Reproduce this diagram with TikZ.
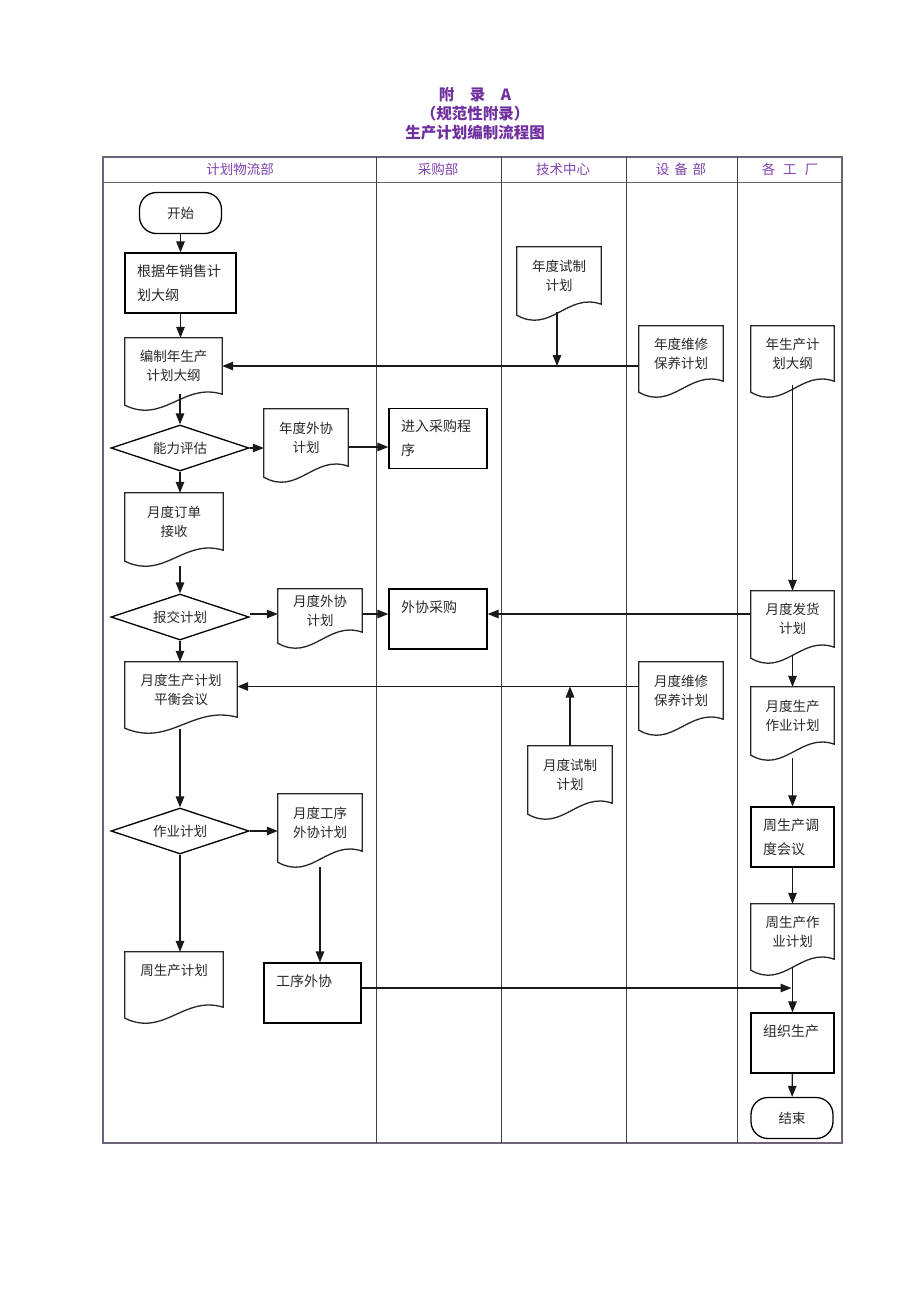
\documentclass[tikz,border=0pt]{standalone}
\usepackage{fontspec}
\setmainfont{Noto Sans CJK SC}
\usepackage{tikz}
\usetikzlibrary{shapes.geometric, arrows.meta, calc}
\definecolor{titlecolor}{RGB}{112, 48, 160}
\definecolor{headcolor}{RGB}{128, 64, 176}
\definecolor{framecolor}{RGB}{110, 100, 120}
\definecolor{inkcolor}{RGB}{40, 40, 40}

% rectangle with wavy bottom (document)
\newcommand{\docshape}[1]{%
  \draw[line] ($(#1.south west)+(0,11)$) -- (#1.north west) -- (#1.north east) -- (#1.south east)
    .. controls ($(#1.south west)!0.6!(#1.south east)+(0,-12)$) and ($(#1.south west)!0.4!(#1.south east)+(0,30)$) .. cycle;}

\begin{document}
\begin{tikzpicture}[
    x=1pt, y=-1pt,
    line/.style={line width=1.3pt, draw=black!85},
    arr/.style={line width=1.3pt, draw=black!90, -{Triangle[length=11pt,width=8.5pt]}},
    terminal/.style={draw, line width=1.3pt, rounded corners=17pt, minimum width=82pt, minimum height=41pt, text=inkcolor, font=\fontsize{13.5}{16}\selectfont},
    box/.style={draw, line width=1.3pt, align=left, inner xsep=12pt, inner ysep=0pt, minimum height=60pt, text=inkcolor, font=\fontsize{14}{24}\selectfont},
    doc/.style={inner sep=0pt, align=center, text=inkcolor, font=\fontsize{13.5}{19}\selectfont},
    decision/.style={draw, diamond, aspect=3, line width=1.3pt, inner sep=0pt, minimum width=138pt, minimum height=46pt, text=inkcolor, font=\fontsize{13.5}{16}\selectfont},
    head/.style={text=headcolor, font=\fontsize{13.5}{15}\selectfont},
    title/.style={text=titlecolor, font=\bfseries\fontsize{15.5}{18}\selectfont}
]
    \useasboundingbox (0,0) rectangle (920,1302);

    % Title
    \node[title] (t1) at (475,95) {附\quad 录\quad A};
    \node[title] (t2) at (475,114) {（规范性附录）};
    \node[title] (t3) at (475,133) {生产计划编制流程图};

    % Swimlanes
    \draw[framecolor, line width=1.5pt] (103,157) rectangle (842,1143);
    \draw[black!60, line width=1pt] (103,182) -- (842,182);
    \foreach \x in {376,501,626,737}
        \draw[black!75, line width=1pt] (\x,157) -- (\x,1143);
    \node[head] (lane1) at (240,169) {计划物流部};
    \node[head] (lane2) at (438,169) {采购部};
    \node[head] (lane3) at (563,169) {技术中心};
    \node[head] (lane4) at (681,169) {设\hspace{5pt}备\hspace{5pt}部};
    \node[head] (lane5) at (790,169) {各\hspace{8pt}工\hspace{8pt}厂};

    % Planning & logistics
    \node[terminal] (kaishi) at (180.5,213) {开始};
    \node[box, text width=87pt] (genju) at (180.5,283) {根据年销售计\\划大纲};
    \node[doc, minimum width=97pt, minimum height=56pt] (bianzhi) at (173.5,366) {编制年生产\\计划大纲};
    \node[decision] (pinggu) at (180,448) {能力评估};
    \node[doc, minimum width=84pt, minimum height=57pt] (nwaixie) at (306,437.5) {年度外协\\计划};
    \node[doc, minimum width=98pt, minimum height=57pt] (dingdan) at (174,521.5) {月度订单\\接收};
    \node[decision] (baojiao) at (180,617) {报交计划};
    \node[doc, minimum width=84pt, minimum height=43pt] (ywaixie) at (320,610.5) {月度外协\\计划};
    \node[doc, minimum width=112pt, minimum height=55pt] (pingheng) at (181,689.5) {月度生产计划\\平衡会议};
    \node[decision] (zuoye) at (180,831) {作业计划};
    \node[doc, minimum width=84pt, minimum height=57pt] (gxwaixie) at (320,822.5) {月度工序\\外协计划};
    \node[doc, minimum width=98pt, minimum height=55pt] (zhoujh) at (174,979.5) {周生产计划\\ \mbox{}};
    \node[box, text width=73pt] (gongxu) at (312.5,993) {工序外协\\ \mbox{}};

    % Purchasing
    \node[box, text width=74pt] (jinru) at (438,438.5) {进入采购程\\序};
    \node[box, text width=74pt] (waixiecg) at (438,619) {外协采购\\ \mbox{}};

    % Technology centre
    \node[doc, minimum width=84pt, minimum height=57pt] (nshizhi) at (559,275.5) {年度试制\\计划};
    \node[doc, minimum width=84pt, minimum height=57pt] (yshizhi) at (570,774.5) {月度试制\\计划};

    % Equipment
    \node[doc, minimum width=84pt, minimum height=55pt] (nweixiu) at (681,353.5) {年度维修\\保养计划};
    \node[doc, minimum width=84pt, minimum height=57pt] (yweixiu) at (681,690.5) {月度维修\\保养计划};

    % Plants
    \node[doc, minimum width=83pt, minimum height=55pt] (dagang) at (792.5,353.5) {年生产计\\划大纲};
    \node[doc, minimum width=83pt, minimum height=56pt] (fahuo) at (792.5,619) {月度发货\\计划};
    \node[doc, minimum width=83pt, minimum height=57pt] (yzuoye) at (792.5,715.5) {月度生产\\作业计划};
    \node[box, text width=59pt] (diaodu) at (792.5,837) {周生产调\\度会议};
    \node[doc, minimum width=83pt, minimum height=55pt] (zzuoye) at (792.5,931.5) {周生产作\\业计划};
    \node[box, text width=59pt] (zuzhi) at (792.5,1043) {组织生产\\ \mbox{}};
    \node[terminal] (jieshu) at (792,1118) {结束};

    \foreach \n in {bianzhi, nwaixie, dingdan, ywaixie, pingheng, gxwaixie, zhoujh,
                    nshizhi, yshizhi, nweixiu, yweixiu, dagang, fahuo, yzuoye, zzuoye}
        \docshape{\n};

    % Connections
    \draw[arr] (kaishi) -- (genju);
    \draw[arr] (genju.south) -- (genju.south |- bianzhi.north);
    \draw[arr] (pinggu.north |- bianzhi.south) -- (pinggu.north);
    \draw[arr] (nweixiu.west |- bianzhi.east) -- (bianzhi.east);
    \draw[arr] ($(nshizhi.south)+(-2,8)$) -- ($(nshizhi.south |- bianzhi.east)+(-2,0)$);
    \draw[arr] (pinggu.east) -- (pinggu.east -| nwaixie.west);
    \draw[arr] ($(pinggu.east -| nwaixie.east)+(0,-1)$) -- ($(pinggu.east -| jinru.west)+(0,-1)$);
    \draw[arr] (pinggu.south) -- (pinggu.south |- dingdan.north);
    \draw[arr] ($(baojiao.north |- dingdan.south)+(0,16)$) -- (baojiao.north);
    \draw[arr] ($(baojiao.east)+(0,-3)$) -- ($(baojiao.east -| ywaixie.west)+(0,-3)$);
    \draw[arr] ($(baojiao.east -| ywaixie.east)+(0,-3)$) -- ($(baojiao.east -| waixiecg.west)+(0,-3)$);
    \draw[arr] ($(fahuo.west |- baojiao.east)+(0,-3)$) -- ($(waixiecg.east |- baojiao.east)+(0,-3)$);
    \draw[arr] ($(dagang.south)+(0,4)$) -- (fahuo.north);
    \draw[arr] (baojiao.south) -- (baojiao.south |- pingheng.north);
    \draw[arr] ($(yweixiu.west |- pingheng.east)+(0,-3)$) -- ($(pingheng.east)+(0,-3)$);
    \draw[arr] (yshizhi.north) -- ($(yshizhi.north |- pingheng.east)+(0,-3)$);
    \draw[arr] ($(fahuo.south)+(0,8)$) -- (yzuoye.north);
    \draw[arr] ($(yzuoye.south)+(0,14)$) -- (diaodu.north);
    \draw[arr] ($(zuoye.north |- pingheng.south)+(0,12)$) -- (zuoye.north);
    \draw[arr] (zuoye.east) -- (zuoye.east -| gxwaixie.west);
    \draw[arr] (zuoye.south) -- (zuoye.south |- zhoujh.north);
    \draw[arr] ($(gxwaixie.south)+(0,16)$) -- (gxwaixie.south |- gongxu.north);
    \draw[arr] (diaodu) -- (zzuoye);
    \draw[arr] ($(zzuoye.south)+(0,8)$) -- (zuzhi.north);
    \draw[arr] ($(gongxu.east)+(0,-5)$) -- ($(gongxu.east -| zuzhi.north)+(-1,-5)$);
    \draw[arr] (zuzhi) -- (jieshu);

\end{tikzpicture}
\end{document}
